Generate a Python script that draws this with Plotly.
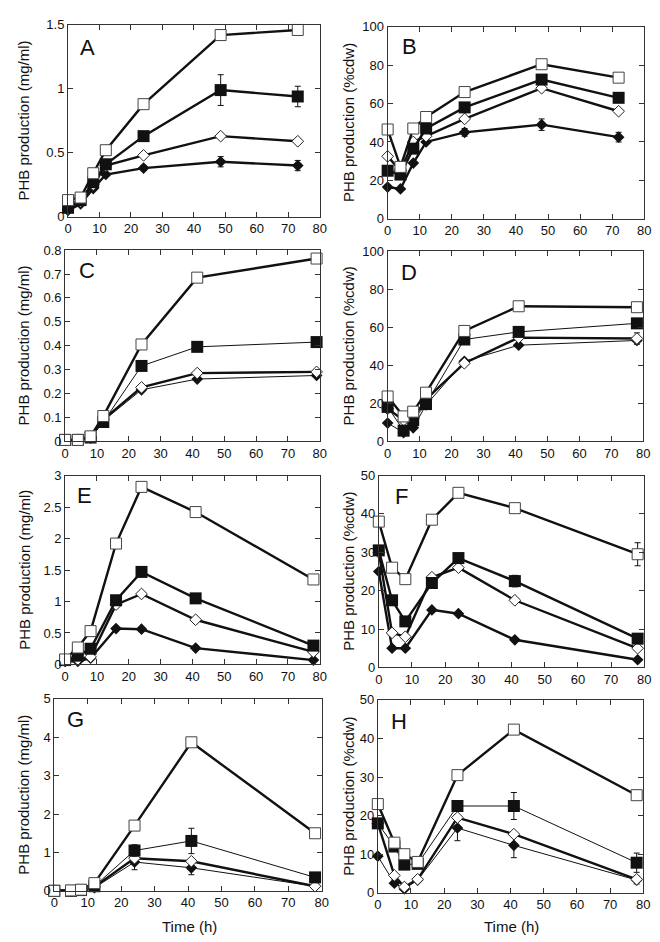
import plotly.graph_objects as go

# ---------------- data ----------------
panel_letters = ["A", "B", "C", "D", "E", "F", "G", "H"]
y_titles = ["PHB production (mg/ml)", "PHB production (%cdw)"]
x_title = "Time (h)"
x_ticks = [0, 10, 20, 30, 40, 50, 60, 70, 80]

A_t = [0, 4, 8, 12, 24, 48.5, 73]
A_osq = [0.13, 0.15, 0.34, 0.52, 0.88, 1.42, 1.46]
A_fsq = [0.07, 0.13, 0.27, 0.41, 0.63, 0.99, 0.94]
A_fsq_err = [0, 0, 0, 0, 0, 0.12, 0.08]
A_odi = [0.06, 0.12, 0.25, 0.40, 0.48, 0.63, 0.59]
A_fdi = [0.05, 0.10, 0.22, 0.33, 0.38, 0.43, 0.40]
A_fdi_err = [0, 0, 0, 0, 0.02, 0.04, 0.04]

B_t = [0, 4, 8, 12, 24, 48, 72]
B_osq = [46.5, 27, 47, 53, 66, 80.5, 73.5]
B_fsq = [25, 23, 36.5, 47, 58, 72.5, 63]
B_odi = [32.5, 25, 40, 43, 52, 68, 56]
B_fdi = [16.5, 15.5, 29, 40, 45, 49, 42.5]
B_fdi_err = [0, 0, 0, 0, 2, 3, 2.5]

C_t = [0, 4, 8, 12, 24, 41.5, 79]
C_osq = [0.005, 0.005, 0.02, 0.105, 0.405, 0.685, 0.765]
C_osq_err = [0, 0, 0, 0, 0, 0, 0.01]
C_fsq = [0.005, 0.005, 0.015, 0.08, 0.315, 0.395, 0.415]
C_odi = [0.005, 0.005, 0.015, 0.09, 0.225, 0.285, 0.29]
C_odi_err = [0, 0, 0, 0, 0, 0, 0.01]
C_fdi = [0.005, 0.005, 0.015, 0.085, 0.215, 0.26, 0.275]

D_t = [0, 5, 8, 12, 24, 41, 78]
D_osq = [23.5, 13, 15.5, 25.5, 58, 71, 70.5]
D_fsq = [18, 5.5, 11, 19.5, 53.5, 57.5, 62]
D_odi = [17, 11, 12, 22, 41, 54.5, 54]
D_odi_err = [0, 0, 0, 0, 0, 0, 3]
D_fdi = [9.5, 4.5, 7, 19, 42, 50.5, 53]

E_t = [0, 4, 8, 16, 24, 41, 78]
E_osq = [0.08, 0.27, 0.53, 1.92, 2.82, 2.42, 1.35]
E_osq_err = [0, 0, 0, 0, 0, 0, 0.05]
E_fsq = [0.07, 0.14, 0.25, 1.02, 1.47, 1.05, 0.30]
E_odi = [0.06, 0.08, 0.12, 0.95, 1.12, 0.71, 0.20]
E_fdi = [0.05, 0.05, 0.10, 0.57, 0.56, 0.26, 0.07]

F_t = [0, 4, 8, 16, 24, 41, 78]
F_osq = [38, 26, 23, 38.5, 45.5, 41.5, 29.5]
F_osq_err = [0, 0, 0, 0, 0.8, 0, 3]
F_fsq = [30.5, 17.5, 12, 22, 28.5, 22.5, 7.5]
F_fsq_err = [0, 0, 0, 0, 0, 1.5, 0]
F_odi = [30, 9, 8, 23.5, 26, 17.5, 5]
F_fdi = [25, 5, 5, 15, 14, 7.2, 2]

G_t = [0, 5, 8, 12, 24, 41, 78]
G_osq = [0, 0.01, 0.03, 0.2, 1.7, 3.87, 1.5]
G_osq_err = [0, 0, 0, 0, 0, 0.1, 0]
G_fsq = [0, 0, 0.02, 0.12, 1.05, 1.3, 0.35]
G_fsq_err = [0, 0, 0, 0, 0.15, 0.33, 0]
G_odi = [0, 0, 0.02, 0.1, 0.85, 0.77, 0.12]
G_fdi = [0, 0, 0.02, 0.08, 0.75, 0.6, 0.12]
G_fdi_err = [0, 0, 0, 0, 0.2, 0.18, 0]

H_t = [0, 5, 8, 12, 24, 41, 78]
H_osq = [23, 13, 10, 8, 30.5, 42.3, 25.3]
H_osq_err = [0, 0, 0, 0, 0, 1, 1]
H_fsq = [18, 12, 7.3, 7.5, 22.5, 22.5, 7.8]
H_fsq_err = [0, 0, 0, 0, 0, 3.5, 2.5]
H_odi = [18, 4.5, 1.5, 3.5, 19.5, 15.2, 3.5]
H_fdi = [9.5, 2.5, 1, 3.3, 16.8, 12.3, 3.3]
H_fdi_err = [0, 0, 0, 0, 3.3, 3.2, 1]

zeros = [0] * 7

# ---------------- layout helpers ----------------
W, H = 660, 942
FONT = "Liberation Sans, Arial, Helvetica, sans-serif"
INK = "#111111"
THICK, THIN = 2.4, 1.0

# pixel boxes (x0, x1, ytop, ybottom)
boxes = [
    (57, 313, 10, 205),
    (382, 643, 12, 207),
    (54, 313, 239, 433),
    (382, 642, 240, 433),
    (54, 313, 468, 660),
    (373, 643, 468, 663),
    (43, 315, 695, 890),
    (372, 642, 696, 892),
]
yranges = [(0, 1.5), (0, 100), (0, 0.8), (0, 100), (0, 3), (0, 50), (0, 5), (0, 50)]
ydticks = [0.5, 20, 0.1, 20, 0.5, 10, 1, 10]
letter_pos = [(77, 33), (404, 32), (76, 260), (404, 262), (74, 488), (396, 489), (65, 716), (394, 718)]

# per panel: (t, osq, osq_err, fsq, fsq_err, odi, odi_err, fdi, fdi_err, widths[osq,fsq,odi,fdi])
panels = [
    (A_t, A_osq, zeros, A_fsq, A_fsq_err, A_odi, zeros, A_fdi, A_fdi_err, [THICK, THICK, THICK, THICK]),
    (B_t, B_osq, zeros, B_fsq, zeros, B_odi, zeros, B_fdi, B_fdi_err, [THICK, THICK, THICK, THICK]),
    (C_t, C_osq, C_osq_err, C_fsq, zeros, C_odi, C_odi_err, C_fdi, zeros, [THICK, THIN, THICK, THIN]),
    (D_t, D_osq, zeros, D_fsq, zeros, D_odi, D_odi_err, D_fdi, zeros, [THICK, THIN, THICK, THIN]),
    (E_t, E_osq, E_osq_err, E_fsq, zeros, E_odi, zeros, E_fdi, zeros, [THICK, THICK, THICK, THICK]),
    (F_t, F_osq, F_osq_err, F_fsq, F_fsq_err, F_odi, zeros, F_fdi, zeros, [THICK, THICK, THICK, THICK]),
    (G_t, G_osq, G_osq_err, G_fsq, G_fsq_err, G_odi, zeros, G_fdi, G_fdi_err, [THICK, THIN, THICK, THIN]),
    (H_t, H_osq, H_osq_err, H_fsq, H_fsq_err, H_odi, zeros, H_fdi, H_fdi_err, [THICK, THIN, THICK, THIN]),
]

styles = [
    dict(symbol="square", size=11, color="white", line=dict(color="#444444", width=1)),
    dict(symbol="square", size=12, color=INK, line=dict(color=INK, width=0)),
    dict(symbol="diamond", size=9, color="white", line=dict(color="#222222", width=1)),
    dict(symbol="diamond", size=9, color=INK, line=dict(color=INK, width=0)),
]

fig = go.Figure()
layout = dict(
    width=W, height=H, margin=dict(l=0, r=0, t=0, b=0),
    paper_bgcolor="white", plot_bgcolor="white", showlegend=False,
    font=dict(family=FONT, color=INK, size=13),
)
annotations = []

for i, p in enumerate(panels):
    t = p[0]
    series = [(p[1], p[2]), (p[3], p[4]), (p[5], p[6]), (p[7], p[8])]
    widths = p[9]
    n = i + 1
    xa = "x" if n == 1 else f"x{n}"
    ya = "y" if n == 1 else f"y{n}"
    for k in [3, 2, 1, 0]:
        vals, err = series[k]
        has_err = any(e > 0 for e in err)
        fig.add_trace(go.Scatter(
            x=t, y=vals, xaxis=xa, yaxis=ya, mode="lines+markers",
            line=dict(color=INK, width=widths[k]),
            marker=styles[k], cliponaxis=False,
            error_y=dict(type="data", array=err, visible=has_err, color=INK, thickness=1, width=3),
            hoverinfo="skip",
        ))
    x0, x1, yt, yb = boxes[i]
    xkey = "xaxis" if n == 1 else f"xaxis{n}"
    ykey = "yaxis" if n == 1 else f"yaxis{n}"
    axcommon = dict(showline=True, mirror="ticks", linecolor="#333333", linewidth=1,
                    ticks="inside", ticklen=5, tickcolor="#333333", tickwidth=1,
                    showgrid=False, zeroline=False,
                    tickfont=dict(family=FONT, size=13, color=INK))
    layout[xkey] = dict(domain=[x0 / W, x1 / W], range=[0, 80], tickvals=x_ticks,
                        anchor=ya, **axcommon)
    layout[ykey] = dict(domain=[1 - yb / H, 1 - yt / H], range=list(yranges[i]),
                        dtick=ydticks[i], tick0=0, anchor=xa, **axcommon)
    lx, ly = letter_pos[i]
    annotations.append(dict(text=panel_letters[i], x=lx / W, y=1 - ly / H, xref="paper", yref="paper",
                            showarrow=False, font=dict(family=FONT, size=22, color=INK),
                            xanchor="center", yanchor="middle"))
    ytx = 12 if i % 2 == 0 else 342
    annotations.append(dict(text=y_titles[i % 2], x=ytx / W, y=1 - (yt + yb) / 2 / H,
                            xref="paper", yref="paper", showarrow=False, textangle=-90,
                            font=dict(family=FONT, size=15, color=INK),
                            xanchor="center", yanchor="middle"))

annotations.append(dict(text=x_title, x=180 / W, y=1 - 926 / H, xref="paper", yref="paper",
                        showarrow=False, font=dict(family=FONT, size=15, color=INK),
                        xanchor="center", yanchor="middle"))
annotations.append(dict(text=x_title, x=508 / W, y=1 - 926 / H, xref="paper", yref="paper",
                        showarrow=False, font=dict(family=FONT, size=15, color=INK),
                        xanchor="center", yanchor="middle"))
layout["annotations"] = annotations
fig.update_layout(**layout)
fig.write_html("out.html")
